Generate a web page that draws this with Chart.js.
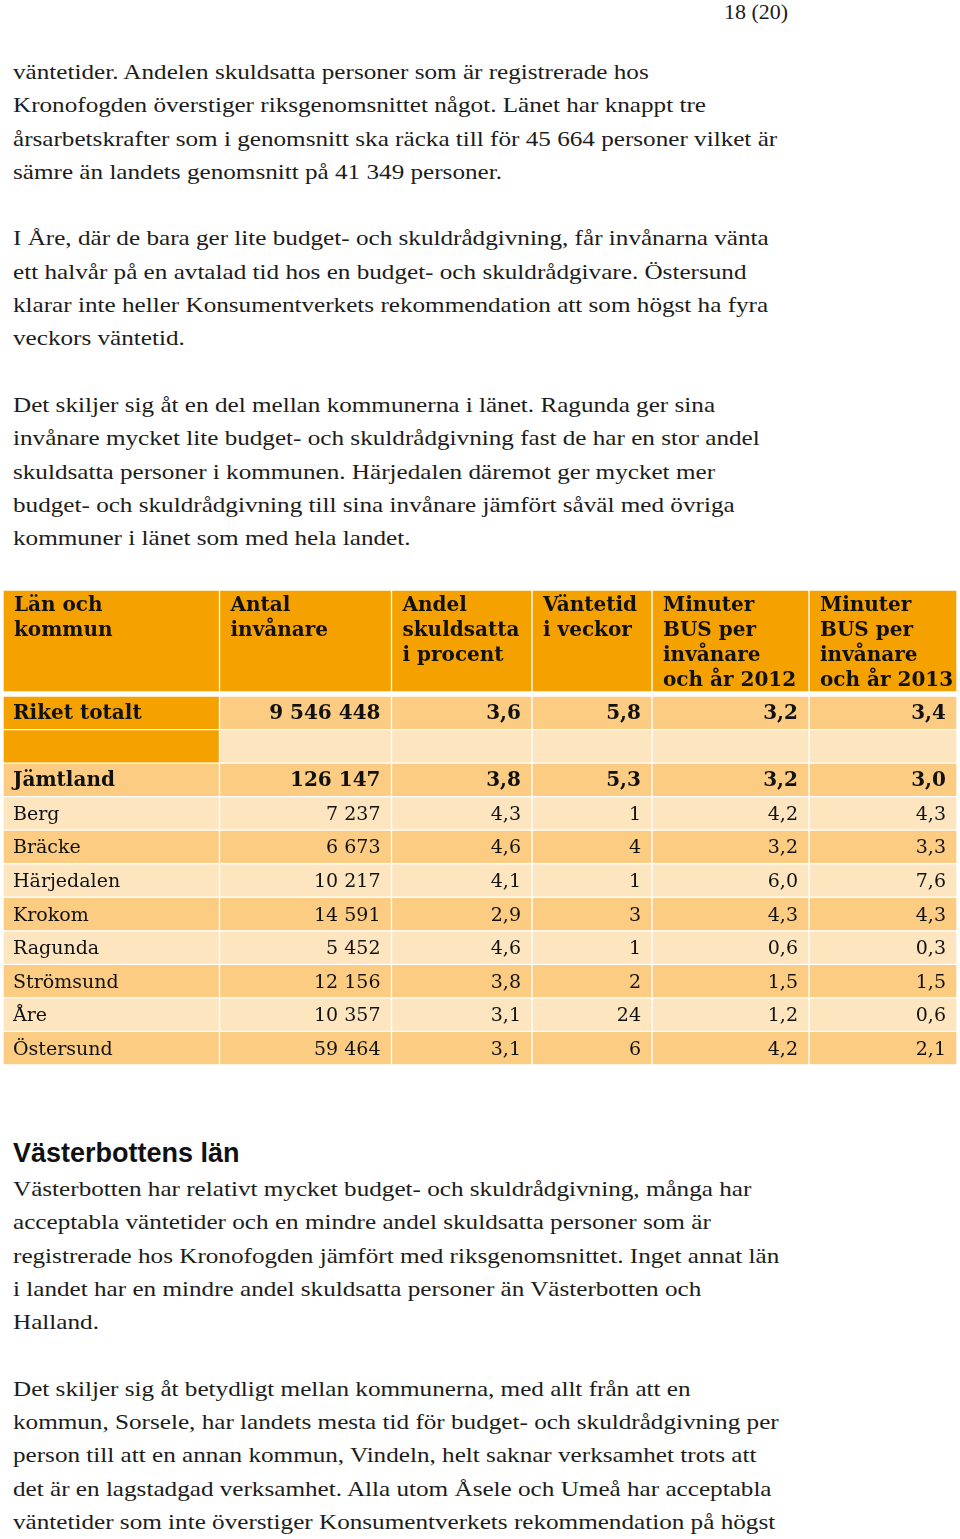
<!DOCTYPE html>
<html lang="sv">
<head>
<meta charset="utf-8">
<title>Budget- och skuldrådgivning – Jämtland</title>
<script src="https://cdn.jsdelivr.net/npm/chart.js@4.4.1/dist/chart.umd.min.js"></script>
<style>
  html, body { margin: 0; background: #fff; }
  body {
    position: relative;
    width: 960px;
    height: 1539px;
    overflow: hidden;
    font-family: "Liberation Serif", "Times New Roman", serif;
    color: #1c1c1c;
  }
  .page-no { position: absolute; left: 724px; top: 0; font-size: 22px; line-height: 24px; }
  .text {
    position: absolute; left: 13px; font-size: 21.5px; line-height: 33.3px; white-space: nowrap;
    transform: scaleX(1.17); transform-origin: 0 0;
  }
  .heading {
    position: absolute; left: 13px; top: 1137px; margin: 0;
    font: bold 27px/33px "Liberation Sans", Arial, sans-serif; color: #111;
  }
  #tableHead { position: absolute; left: 0; top: 590px; }
  #tableBody { position: absolute; left: 0; top: 696px; }
</style>
</head>
<body>
<div class="page-no">18 (20)</div>

<div class="text" style="top:56px">
väntetider. Andelen skuldsatta personer som är registrerade hos<br>
Kronofogden överstiger riksgenomsnittet något. Länet har knappt tre<br>
årsarbetskrafter som i genomsnitt ska räcka till för 45 664 personer vilket är<br>
sämre än landets genomsnitt på 41 349 personer.<br>
<br>
I Åre, där de bara ger lite budget- och skuldrådgivning, får invånarna vänta<br>
ett halvår på en avtalad tid hos en budget- och skuldrådgivare. Östersund<br>
klarar inte heller Konsumentverkets rekommendation att som högst ha fyra<br>
veckors väntetid.<br>
<br>
Det skiljer sig åt en del mellan kommunerna i länet. Ragunda ger sina<br>
invånare mycket lite budget- och skuldrådgivning fast de har en stor andel<br>
skuldsatta personer i kommunen. Härjedalen däremot ger mycket mer<br>
budget- och skuldrådgivning till sina invånare jämfört såväl med övriga<br>
kommuner i länet som med hela landet.
</div>

<canvas id="tableHead" width="960" height="102"></canvas>
<canvas id="tableBody" width="960" height="369"></canvas>

<h2 class="heading">Västerbottens län</h2>
<div class="text" style="top:1173px">
Västerbotten har relativt mycket budget- och skuldrådgivning, många har<br>
acceptabla väntetider och en mindre andel skuldsatta personer som är<br>
registrerade hos Kronofogden jämfört med riksgenomsnittet. Inget annat län<br>
i landet har en mindre andel skuldsatta personer än Västerbotten och<br>
Halland.<br>
<br>
Det skiljer sig åt betydligt mellan kommunerna, med allt från att en<br>
kommun, Sorsele, har landets mesta tid för budget- och skuldrådgivning per<br>
person till att en annan kommun, Vindeln, helt saknar verksamhet trots att<br>
det är en lagstadgad verksamhet. Alla utom Åsele och Umeå har acceptabla<br>
väntetider som inte överstiger Konsumentverkets rekommendation på högst
</div>

<script>
// table data
const headers = [
  ["Län och", "kommun"],
  ["Antal", "invånare"],
  ["Andel", "skuldsatta", "i procent"],
  ["Väntetid", "i veckor"],
  ["Minuter", "BUS per", "invånare", "och år 2012"],
  ["Minuter", "BUS per", "invånare", "och år 2013"]
]
const regions = ["Riket totalt", "", "Jämtland", "Berg", "Bräcke", "Härjedalen", "Krokom", "Ragunda", "Strömsund", "Åre", "Östersund"]
const population = [9546448, null, 126147, 7237, 6673, 10217, 14591, 5452, 12156, 10357, 59464]
const debtShare = [3.6, null, 3.8, 4.3, 4.6, 4.1, 2.9, 4.6, 3.8, 3.1, 3.1]
const waitWeeks = [5.8, null, 5.3, 1, 4, 1, 3, 1, 2, 24, 6]
const minutes2012 = [3.2, null, 3.2, 4.2, 3.2, 6.0, 4.3, 0.6, 1.5, 1.2, 4.2]
const minutes2013 = [3.4, null, 3.0, 4.3, 3.3, 7.6, 4.3, 0.3, 1.5, 0.6, 2.1]
const boldRows = ["Riket totalt", "Jämtland"]

// layout
const columnEdges = [3, 219.5, 391.5, 532, 652, 809, 957]
const DARK = "#f5a100"
const MEDIUM = "#fccc82"
const LIGHT = "#fde5bf"
const FONT = "'DejaVu Serif', Georgia, serif"

const formatInt = (v) => String(v).replace(/\B(?=(\d{3})+(?!\d))/g, " ")
const formatDec = (v) => v.toFixed(1).replace(".", ",")
const formatWeeks = (v) => Number.isInteger(v) ? String(v) : formatDec(v)

const columns = [
  regions,
  population.map((v) => v == null ? "" : formatInt(v)),
  debtShare.map((v) => v == null ? "" : formatDec(v)),
  waitWeeks.map((v) => v == null ? "" : formatWeeks(v)),
  minutes2012.map((v) => v == null ? "" : formatDec(v)),
  minutes2013.map((v) => v == null ? "" : formatDec(v))
]

function bodyColor(row, col) {
  if (row === 0) return col === 0 ? DARK : MEDIUM
  if (row === 1) return col === 0 ? DARK : LIGHT
  return row % 2 === 0 ? MEDIUM : LIGHT
}

function cellDatasets(rowCount, colorFn) {
  return headers.map((_, col) => ({
    data: Array.from({ length: rowCount }, () => [columnEdges[col], columnEdges[col + 1]]),
    backgroundColor: (ctx) => colorFn(ctx.dataIndex, col),
    borderColor: "#ffffff",
    borderWidth: 1,
    borderSkipped: false,
    grouped: false,
    categoryPercentage: 1,
    barPercentage: 1
  }))
}

const baseOptions = {
  indexAxis: "y",
  responsive: false,
  animation: false,
  events: [],
  layout: { padding: 0 },
  plugins: { legend: { display: false }, tooltip: { enabled: false } },
  scales: {
    x: { type: "linear", min: 0, max: 960, display: false },
    y: { display: false, grid: { display: false } }
  }
}

const headerText = {
  id: "headerText",
  afterDatasetsDraw(chart) {
    const ctx = chart.ctx
    ctx.save()
    ctx.fillStyle = "#111"
    ctx.font = "bold 20px " + FONT
    ctx.textAlign = "left"
    ctx.textBaseline = "alphabetic"
    chart.data.datasets.forEach((ds, col) => {
      const bar = chart.getDatasetMeta(col).data[0]
      const top = bar.y - bar.height / 2
      headers[col].forEach((line, i) => {
        ctx.fillText(line, bar.base + 11, top + 20.5 + i * 25)
      })
    })
    ctx.restore()
  }
}

const bodyText = {
  id: "bodyText",
  afterDatasetsDraw(chart) {
    const ctx = chart.ctx
    ctx.save()
    ctx.fillStyle = "#111"
    ctx.textBaseline = "alphabetic"
    chart.data.datasets.forEach((ds, col) => {
      chart.getDatasetMeta(col).data.forEach((bar, row) => {
        const text = columns[col][row]
        if (!text) return
        const bold = boldRows.includes(regions[row])
        ctx.font = (bold ? "bold 20px " : "19px ") + FONT
        const y = bar.y + 6.5
        if (col === 0) {
          ctx.textAlign = "left"
          ctx.fillText(text, bar.base + 10, y)
        } else {
          ctx.textAlign = "right"
          ctx.fillText(text, bar.x - 11, y)
        }
      })
    })
    ctx.restore()
  }
}

new Chart(document.getElementById("tableHead"), {
  type: "bar",
  data: { labels: ["header"], datasets: cellDatasets(1, () => DARK) },
  options: baseOptions,
  plugins: [headerText]
})

new Chart(document.getElementById("tableBody"), {
  type: "bar",
  data: { labels: regions.map((r, i) => r || "row" + i), datasets: cellDatasets(regions.length, bodyColor) },
  options: baseOptions,
  plugins: [bodyText]
})
</script>
</body>
</html>
